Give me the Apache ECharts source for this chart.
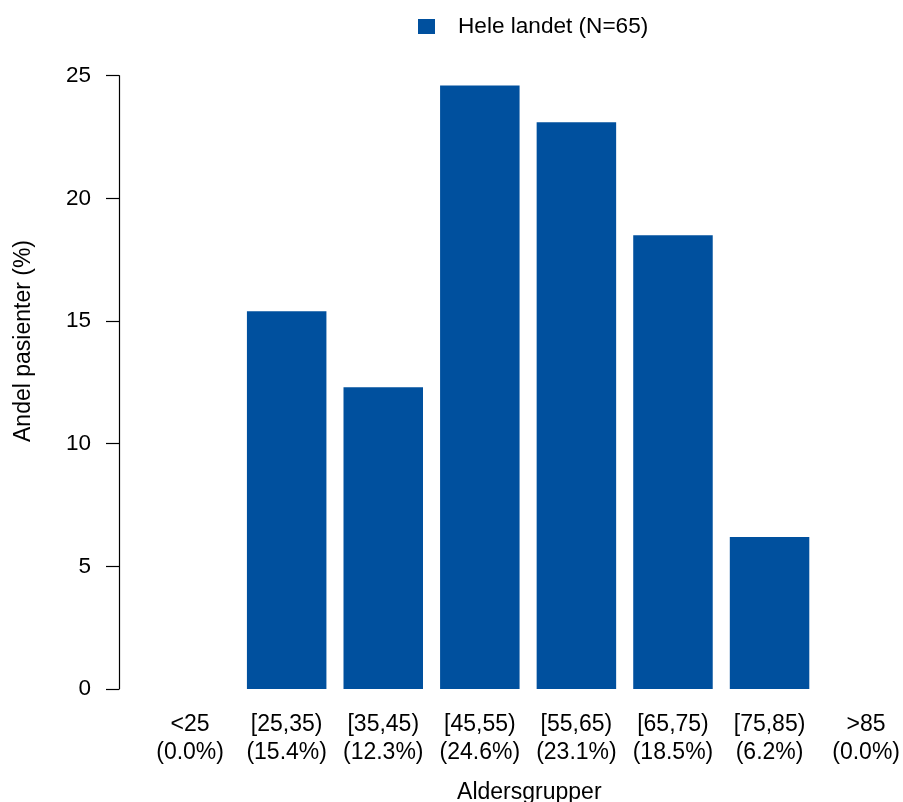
<!DOCTYPE html>
<html>
<head>
<meta charset="utf-8">
<script src="https://cdn.jsdelivr.net/npm/echarts@6/dist/echarts.min.js"></script>
<style>
  html, body { margin: 0; padding: 0; background: #fff; overflow: hidden; }
  #chart { width: 903px; height: 802px; }
</style>
</head>
<body>
<div id="chart"></div>
<script>
// Age groups and share of patients (%) per group
const ageGroups = ['<25', '[25,35)', '[35,45)', '[45,55)', '[55,65)', '[65,75)', '[75,85)', '>85'];
const shares = [0.0, 15.4, 12.3, 24.6, 23.1, 18.5, 6.2, 0.0];
const seriesName = 'Hele landet (N=65)';
const yTicks = [0, 5, 10, 15, 20, 25];

const FONT = '"Liberation Sans", Arial, Helvetica, sans-serif';
const BAR_COLOR = '#00509E';

// Plot frame (px): group slots are laid out along a numeric x scale,
// group i centred at x = i, one slot = STEP px wide.
const PLOT_LEFT = 190.1;
const PLOT_TOP = 75.7;
const PLOT_HEIGHT = 613.3;
const STEP = 96.9;
const AXIS_X = 119;              // where the y axis line is drawn
const WIDTH = 903;
const xMax = (WIDTH - PLOT_LEFT) / STEP;

// Category label: group on first line, share on second line
const xLabels = ageGroups.map((g, i) => g + '\n(' + shares[i].toFixed(1) + '%)');
const barData = shares.map((v, i) => [i, v]);

const chart = echarts.init(document.getElementById('chart'), null, { renderer: 'canvas' });

chart.setOption({
  animation: false,
  backgroundColor: '#ffffff',
  textStyle: { fontFamily: FONT, color: '#000' },
  legend: {
    data: [seriesName],
    left: 418,
    top: 15,
    padding: 0,
    icon: 'rect',
    itemWidth: 17,
    itemHeight: 15,
    textStyle: { fontFamily: FONT, fontSize: 22.6, color: '#000', padding: [0, 0, 0, 18] }
  },
  grid: { left: PLOT_LEFT, top: PLOT_TOP, right: 0, height: PLOT_HEIGHT, containLabel: false },
  xAxis: {
    type: 'value',
    min: 0,
    max: xMax,
    interval: 1,
    axisLine: { show: false, onZero: false },
    axisTick: { show: false },
    splitLine: { show: false },
    axisLabel: {
      fontFamily: FONT,
      fontSize: 23,
      lineHeight: 28,
      color: '#000',
      margin: 22,
      showMinLabel: true,
      showMaxLabel: false,
      formatter: (v) => (Number.isInteger(v) && xLabels[v] !== undefined ? xLabels[v] : '')
    }
  },
  yAxis: {
    type: 'value',
    min: yTicks[0],
    max: yTicks[yTicks.length - 1],
    interval: yTicks[1] - yTicks[0],
    offset: PLOT_LEFT - AXIS_X,
    axisLine: { show: true, onZero: false, lineStyle: { color: '#000', width: 1.2 } },
    axisTick: { show: true, length: 13, lineStyle: { color: '#000', width: 1.2 } },
    axisLabel: { fontFamily: FONT, fontSize: 22.5, color: '#000', margin: 28, padding: [5, 0, 0, 0] },
    splitLine: { show: false }
  },
  graphic: [{
    type: 'text',
    x: 24,
    y: 341,
    rotation: Math.PI / 2,
    style: {
      text: 'Andel pasienter (%)',
      fontFamily: FONT,
      fontSize: 23,
      fill: '#000',
      textAlign: 'center',
      textVerticalAlign: 'middle'
    }
  }, {
    type: 'text',
    x: 529.3,
    y: 793,
    style: {
      text: 'Aldersgrupper',
      fontFamily: FONT,
      fontSize: 23,
      fill: '#000',
      textAlign: 'center',
      textVerticalAlign: 'middle'
    }
  }],
  series: [{
    name: seriesName,
    type: 'bar',
    data: barData,
    barWidth: 79.5,
    itemStyle: { color: BAR_COLOR }
  }]
});
</script>
</body>
</html>
